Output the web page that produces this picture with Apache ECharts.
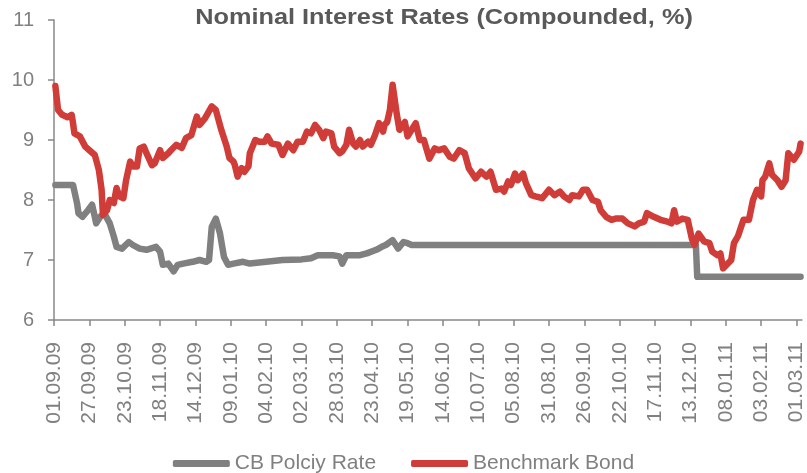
<!DOCTYPE html>
<html>
<head>
<meta charset="utf-8">
<title>Nominal Interest Rates</title>
<script src="https://cdn.jsdelivr.net/npm/echarts@6/dist/echarts.min.js"></script>
<style>
  html, body { margin: 0; padding: 0; background: #ffffff; }
  #chart { width: 807px; height: 473px; }
</style>
</head>
<body>
<div id="chart"></div>
<script>
// Date labels shown on the horizontal axis (every 26 days)
const tickLabels = ['01.09.09','27.09.09','23.10.09','18.11.09','14.12.09','09.01.10','04.02.10',
  '02.03.10','28.03.10','23.04.10','19.05.10','14.06.10','10.07.10','05.08.10','31.08.10',
  '26.09.10','22.10.10','17.11.10','13.12.10','08.01.11','03.02.11','01.03.11'];

// CB Policy Rate
const policyDates = ['02.09.09','15.09.09','18.09.09','19.09.09','22.09.09','26.09.09','29.09.09',
  '01.10.09','02.10.09','05.10.09','08.10.09','12.10.09','15.10.09','17.10.09','21.10.09','26.10.09',
  '29.10.09','03.11.09','08.11.09','15.11.09','18.11.09','20.11.09','24.11.09','28.11.09','01.12.09',
  '05.12.09','12.12.09','17.12.09','22.12.09','24.12.09','26.12.09','29.12.09','01.01.10','04.01.10',
  '07.01.10','11.01.10','18.01.10','23.01.10','04.02.10','16.02.10','02.03.10','09.03.10','14.03.10',
  '25.03.10','30.03.10','01.04.10','04.04.10','14.04.10','19.04.10','26.04.10','30.04.10','03.05.10',
  '08.05.10','12.05.10','16.05.10','19.05.10','22.05.10','17.12.10','18.12.10','04.03.11'];
const policyValues = [8.25,8.25,7.94,7.78,7.72,7.83,7.92,
  7.72,7.61,7.72,7.78,7.61,7.39,7.22,7.19,7.3,
  7.25,7.19,7.17,7.22,7.14,6.92,6.94,6.81,6.92,
  6.94,6.97,7.0,6.97,7.0,7.55,7.69,7.45,7.05,
  6.92,6.94,6.97,6.94,6.97,7.0,7.01,7.03,7.08,
  7.08,7.06,6.94,7.08,7.08,7.11,7.17,7.22,7.25,
  7.33,7.19,7.3,7.28,7.25,7.25,6.72,6.72];

// Benchmark Bond
const bondDates = ['02.09.09','04.09.09','07.09.09','11.09.09','14.09.09','15.09.09','16.09.09','20.09.09','24.09.09','27.09.09',
  '01.10.09','04.10.09','06.10.09','07.10.09','10.10.09','12.10.09','15.10.09','17.10.09','19.10.09','22.10.09',
  '24.10.09','27.10.09','29.10.09','01.11.09','03.11.09','06.11.09','08.11.09','12.11.09','14.11.09','18.11.09',
  '20.11.09','24.11.09','26.11.09','30.11.09','04.12.09','07.12.09','11.12.09','15.12.09','17.12.09','21.12.09',
  '26.12.09','29.12.09','02.01.10','06.01.10','08.01.10','11.01.10','12.01.10','14.01.10','17.01.10','19.01.10',
  '22.01.10','23.01.10','27.01.10','30.01.10','03.02.10','05.02.10','08.02.10','13.02.10','16.02.10','20.02.10',
  '24.02.10','27.02.10','03.03.10','06.03.10','09.03.10','12.03.10','15.03.10','18.03.10','20.03.10','24.03.10',
  '26.03.10','30.03.10','01.04.10','04.04.10','06.04.10','09.04.10','11.04.10','14.04.10','16.04.10','20.04.10',
  '22.04.10','25.04.10','28.04.10','01.05.10','02.05.10','04.05.10','06.05.10','08.05.10','11.05.10','13.05.10',
  '17.05.10','19.05.10','22.05.10','25.05.10','28.05.10','31.05.10','04.06.10','08.06.10','11.06.10','15.06.10',
  '19.06.10','22.06.10','26.06.10','30.06.10','03.07.10','08.07.10','12.07.10','16.07.10','19.07.10','23.07.10',
  '27.07.10','29.07.10','01.08.10','03.08.10','06.08.10','08.08.10','12.08.10','14.08.10','18.08.10','21.08.10',
  '26.08.10','31.08.10','04.09.10','08.09.10','11.09.10','15.09.10','17.09.10','22.09.10','25.09.10','28.09.10',
  '02.10.10','06.10.10','08.10.10','12.10.10','16.10.10','19.10.10','24.10.10','28.10.10','02.11.10','05.11.10',
  '09.11.10','11.11.10','16.11.10','21.11.10','26.11.10','29.11.10','01.12.10','03.12.10','07.12.10','11.12.10',
  '14.12.10','16.12.10','19.12.10','23.12.10','27.12.10','29.12.10','02.01.11','04.01.11','06.01.11','09.01.11',
  '12.01.11','14.01.11','17.01.11','21.01.11','25.01.11','28.01.11','31.01.11','03.02.11','04.02.11','06.02.11',
  '09.02.11','11.02.11','15.02.11','18.02.11','21.02.11','23.02.11','27.02.11','03.03.11','04.03.11'];
const bondValues = [9.9,9.5,9.42,9.38,9.42,9.28,9.11,9.06,8.89,8.83,
  8.75,8.5,8.17,7.75,7.83,8.0,7.95,8.2,8.06,8.03,
  8.33,8.64,8.56,8.56,8.86,8.89,8.78,8.58,8.61,8.83,
  8.7,8.78,8.83,8.92,8.87,9.03,9.08,9.39,9.25,9.36,
  9.56,9.5,9.17,8.89,8.7,8.64,8.58,8.39,8.53,8.47,
  8.56,8.78,9.0,8.97,8.97,9.06,8.94,8.92,8.75,8.94,
  8.83,8.97,8.97,9.14,9.11,9.25,9.17,9.03,9.14,9.11,
  8.89,8.78,8.81,8.92,9.17,8.94,8.89,9.0,8.89,8.97,
  8.92,9.08,9.28,9.14,9.25,9.3,9.5,9.92,9.44,9.17,
  9.3,9.06,9.17,9.28,9.0,9.0,8.69,8.86,8.83,8.86,
  8.72,8.69,8.83,8.78,8.53,8.36,8.47,8.39,8.47,8.17,
  8.19,8.14,8.31,8.25,8.44,8.33,8.44,8.28,8.08,8.06,
  8.03,8.17,8.08,8.14,8.06,8.0,8.08,8.06,8.17,8.17,
  8.0,7.97,7.83,7.72,7.67,7.69,7.69,7.61,7.56,7.61,
  7.64,7.78,7.72,7.67,7.64,7.61,7.83,7.64,7.69,7.67,
  7.36,7.25,7.44,7.31,7.28,7.14,7.08,7.11,6.86,6.93,
  7.0,7.28,7.4,7.67,7.67,8.0,8.17,8.06,8.33,8.39,
  8.61,8.42,8.33,8.22,8.33,8.78,8.67,8.81,8.94];

// Days since the first axis date (01.09.09)
const ORIGIN = Date.UTC(2009, 8, 1);
const DAY = 86400000;
function dayIndex(s) {
  const p = s.split('.');
  return Math.round((Date.UTC(2000 + +p[2], +p[1] - 1, +p[0]) - ORIGIN) / DAY);
}
function dayLabel(d) {
  const t = new Date(ORIGIN + d * DAY);
  const pad = n => String(n).padStart(2, '0');
  return pad(t.getUTCDate()) + '.' + pad(t.getUTCMonth() + 1) + '.' + pad(t.getUTCFullYear() % 100);
}
const pairs = (dates, vals) => dates.map((d, i) => [dayIndex(d), vals[i]]);
const tickDays = tickLabels.map(dayIndex);

const FONT = '"Liberation Sans", Arial, sans-serif';
const GREY = '#808080';
const RED = '#d03c37';

const chart = echarts.init(document.getElementById('chart'), null, { renderer: 'canvas' });
chart.setOption({
  animation: false,
  backgroundColor: '#ffffff',
  graphic: [{
    type: 'text',
    x: 444,
    y: 7,
    scaleX: 1.15,
    style: {
      text: 'Nominal Interest Rates (Compounded, %)',
      font: 'bold 22px ' + FONT,
      fill: '#595959',
      textAlign: 'center',
      textVerticalAlign: 'top'
    }
  }],
  legend: {
    top: 448,
    left: 'center',
    itemWidth: 57,
    itemHeight: 7,
    itemGap: 35,
    icon: 'roundRect',
    textStyle: { color: GREY, fontSize: 21, fontFamily: FONT },
    data: ['CB Polciy Rate', 'Benchmark Bond']
  },
  grid: { left: 54, right: 4, top: 20, bottom: 153, containLabel: false },
  xAxis: {
    type: 'value',
    min: 0,
    max: 550,
    splitLine: { show: false },
    axisLine: { lineStyle: { color: '#888888', width: 1.5 } },
    axisTick: { show: true, length: 6, customValues: tickDays, lineStyle: { color: '#888888', width: 1.5 } },
    axisLabel: {
      customValues: tickDays,
      rotate: 90,
      margin: 22,
      color: GREY,
      fontSize: 21,
      fontFamily: FONT,
      formatter: v => dayLabel(v)
    }
  },
  yAxis: {
    type: 'value',
    min: 6,
    max: 11,
    interval: 1,
    splitLine: { show: false },
    axisLine: { show: true, lineStyle: { color: '#888888', width: 1.5 } },
    axisTick: { show: true, length: 6, lineStyle: { color: '#888888', width: 1.5 } },
    axisLabel: { color: GREY, fontSize: 20, fontFamily: FONT, margin: 20 }
  },
  series: [
    {
      name: 'CB Polciy Rate',
      type: 'line',
      data: pairs(policyDates, policyValues),
      symbol: 'none',
      itemStyle: { color: GREY },
      lineStyle: { color: GREY, width: 6.5, cap: 'round', join: 'round' }
    },
    {
      name: 'Benchmark Bond',
      type: 'line',
      data: pairs(bondDates, bondValues),
      symbol: 'none',
      itemStyle: { color: RED },
      lineStyle: { color: RED, width: 6.5, cap: 'round', join: 'round' }
    }
  ]
});
</script>
</body>
</html>
